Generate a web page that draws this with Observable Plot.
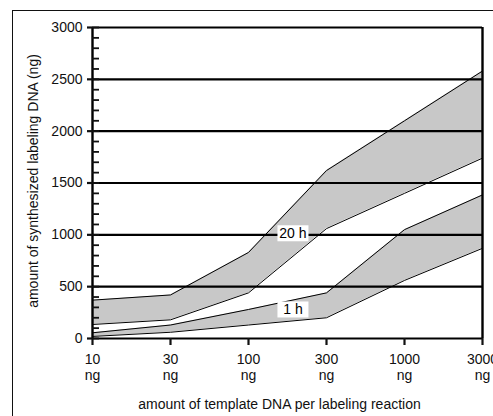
<!DOCTYPE html>
<html>
<head>
<meta charset="utf-8">
<script src="https://cdn.jsdelivr.net/npm/d3@7"></script>
<script src="https://cdn.jsdelivr.net/npm/@observablehq/plot@0.6"></script>
<style>
  html, body { margin: 0; padding: 0; background: #fff; }
  #wrap { position: relative; width: 493px; height: 416px; overflow: hidden; }
  #frame { position: absolute; left: 12px; top: 10px; width: 490px; height: 420px;
           border-top: 1px solid #111; border-left: 1px solid #111; pointer-events: none; }
  svg { font-family: "Liberation Sans", Arial, sans-serif; }
</style>
</head>
<body>
<div id="wrap"><div id="frame"></div></div>
<script>
// template DNA amounts (ng)
const doses = ["10", "30", "100", "300", "1000", "3000"];
// synthesized labeling DNA (ng), 20 h incubation band
const h20Low  = [135, 180, 440, 1060, 1400, 1740];
const h20High = [370, 420, 830, 1620, 2100, 2580];
// synthesized labeling DNA (ng), 1 h incubation band
const h1Low  = [20, 60, 130, 200, 560, 870];
const h1High = [55, 130, 280, 440, 1050, 1385];
// band labels
const annLabels = ["20 h", "1 h"];
const annX = [2.57, 2.57];
const annY = [1010, 275];

const yTicks = d3.range(0, 3001, 500);
const yMinor = d3.range(0, 3001, 100);

const band = (lo, hi) => doses.map((d, i) => ({i, lo: lo[i], hi: hi[i]}));
const b20 = band(h20Low, h20High);
const b1 = band(h1Low, h1High);
const ann = annLabels.map((t, k) => ({t, x: annX[k], y: annY[k]}));

const fs = 14;
const fill = "#c8c8c8";
const chart = Plot.plot({
  width: 493,
  height: 416,
  marginLeft: 92,
  marginRight: 11,
  marginTop: 27,
  marginBottom: 78,
  style: {fontSize: fs + "px", fontFamily: "Liberation Sans, Arial, sans-serif", color: "#111"},
  x: {type: "linear", domain: [0, doses.length - 1]},
  y: {domain: [0, 3000]},
  marks: [
    Plot.areaY(b20, {x: "i", y1: "lo", y2: "hi", fill}),
    Plot.areaY(b1, {x: "i", y1: "lo", y2: "hi", fill}),
    Plot.lineY(b20, {x: "i", y: "lo", stroke: "#000", strokeWidth: 1}),
    Plot.lineY(b20, {x: "i", y: "hi", stroke: "#000", strokeWidth: 1}),
    Plot.lineY(b1, {x: "i", y: "lo", stroke: "#000", strokeWidth: 1}),
    Plot.lineY(b1, {x: "i", y: "hi", stroke: "#000", strokeWidth: 1}),
    Plot.ruleY(yTicks, {stroke: "#000", strokeWidth: 2.2}),
    Plot.ruleX([0, doses.length - 1], {stroke: "#000", strokeWidth: 2.4}),
    Plot.axisY({ticks: yMinor, tickSize: -7, tickFormat: () => "", strokeWidth: 1.8, label: null}),
    Plot.axisY({ticks: yTicks, tickSize: 5, tickPadding: 5, strokeWidth: 2.2, label: null, tickFormat: d => String(d), fontSize: fs}),
    Plot.axisX({ticks: d3.range(doses.length), tickSize: 7, tickPadding: 7, strokeWidth: 2.2, label: null,
                tickFormat: i => doses[i] + "\nng", lineHeight: 1.15, fontSize: fs}),
    Plot.text(ann, {x: "x", y: "y", text: "t", fill: "#000", fontSize: fs}),
    Plot.text(["amount of synthesized labeling DNA (ng)"], {frameAnchor: "left", text: d => d, rotate: -90, textAnchor: "middle", dx: -59, dy: -2, fontSize: fs}),
    Plot.text(["amount of template DNA per labeling reaction"], {frameAnchor: "bottom", text: d => d, dy: 70, dx: -8, fontSize: fs})
  ]
});
document.getElementById("wrap").prepend(chart);

// white boxes behind the band labels
d3.select(chart).selectAll("text").filter(function () {
  return annLabels.includes(this.textContent) && !this.querySelector("tspan");
}).each(function () {
  const bb = this.getBBox();
  const cx = bb.x + bb.width / 2, cy = bb.y + bb.height / 2;
  d3.select(this.parentNode).insert("rect", () => this)
    .attr("transform", this.getAttribute("transform"))
    .attr("x", cx - 15.5).attr("y", cy - 8).attr("width", 31).attr("height", 16)
    .attr("fill", "#fff");
});
</script>
</body>
</html>
